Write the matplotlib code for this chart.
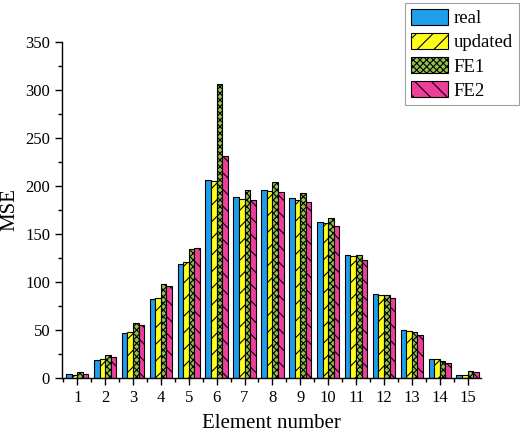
import numpy as np
import matplotlib
matplotlib.use("Agg")
import matplotlib.pyplot as plt
from matplotlib.ticker import MultipleLocator

plt.rcParams['font.family'] = ['Liberation Serif', 'DejaVu Serif']
plt.rcParams['hatch.linewidth'] = 0.8

elements = list(range(1, 16))
real =    [3.8, 19.0, 46.7, 82.4, 118.7, 206.0, 188.0, 196.0, 187.0, 162.3, 127.7, 87.6, 49.5, 19.4, 3.5]
updated = [2.8, 19.4, 47.4, 83.4, 120.5, 204.6, 186.6, 194.0, 185.5, 161.3, 126.7, 86.2, 48.8, 19.4, 2.8]
fe1 =     [5.9, 23.6, 56.8, 97.3, 134.7, 306.0, 196.0, 203.5, 192.5, 166.5, 128.4, 86.2, 47.8, 17.6, 7.3]
fe2 =     [4.5, 22.0, 55.4, 96.2, 135.0, 230.5, 185.5, 193.0, 183.0, 158.0, 122.5, 82.7, 45.0, 15.9, 5.9]

series = [
    ("real", real, "#1E9EEB", ""),
    ("updated", updated, "#FFFF1A", "//"),
    ("FE1", fe1, "#93C24A", "xxxxx"),
    ("FE2", fe2, "#EE3E9C", "\\\\"),
]

fig = plt.figure(figsize=(5.2, 4.37), dpi=100)
ax = fig.add_axes([0.119, 0.135, 0.806, 0.770])

x = np.array(elements, dtype=float)
w = 0.2
for i, (name, vals, color, hatch) in enumerate(series):
    ax.bar(x + (i - 1.5) * w, vals, width=w, color=color, edgecolor="black",
           linewidth=0.8, hatch=hatch, label=name)

ax.set_xlim(0.45, 15.48)
ax.set_ylim(0, 350)
ax.set_xticks(elements)
ax.xaxis.set_minor_locator(MultipleLocator(0.5))
ax.yaxis.set_major_locator(MultipleLocator(50))
ax.yaxis.set_minor_locator(MultipleLocator(25))
ax.tick_params(which="both", direction="out", labelsize=12, width=1.0)
ax.tick_params(which="major", length=5)
ax.tick_params(which="minor", length=3)
for s in ("top", "right"):
    ax.spines[s].set_visible(False)
for s in ("left", "bottom"):
    ax.spines[s].set_linewidth(1.0)

ax.set_xlabel("Element number", fontsize=15, labelpad=6)
ax.set_ylabel("MSE", fontsize=15, labelpad=4)

leg = fig.legend(loc="upper left", bbox_to_anchor=(0.779, 0.993), fontsize=13.5,
                 frameon=True, fancybox=False, edgecolor="#888888",
                 handlelength=2.0, handleheight=0.95, handletextpad=0.3,
                 labelspacing=0.3, borderpad=0.3, borderaxespad=0)
leg.get_frame().set_linewidth(0.8)

fig.savefig("out.png", dpi=100)
